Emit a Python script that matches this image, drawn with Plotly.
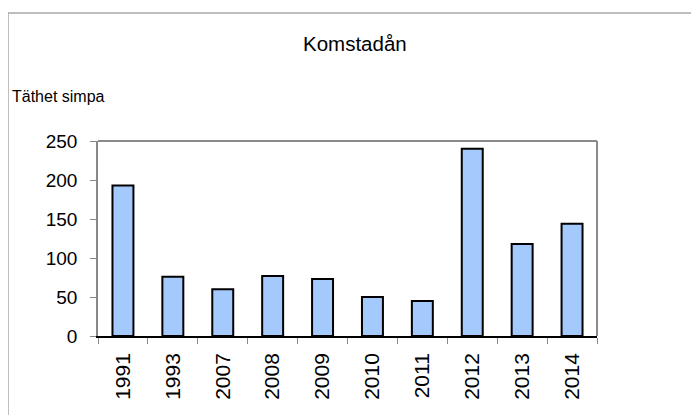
import plotly.graph_objects as go

years = ["1991", "1993", "2007", "2008", "2009", "2010", "2011", "2012", "2013", "2014"]
density = [193, 76, 60, 77, 73, 50, 45, 240, 118, 144]
y_ticks = [0, 50, 100, 150, 200, 250]
title_text = "Komstadån"
y_label = "Täthet simpa"

# page body has an 8px margin; work in reference (window) pixels and subtract it
OFF = 8
W, H = 699 - OFF, 415 - OFF
plot_left, plot_right, plot_top, plot_bottom = 98, 597, 141, 336
L = plot_left - OFF
T = plot_top - OFF
R = W - (plot_right - OFF)
B = H - (plot_bottom - OFF)
pw = W - L - R
ph = H - T - B

def px_x(p):
    return (p - plot_left) / pw

def px_y(p):
    return (plot_bottom - p) / ph

FONT = "Arial, 'Liberation Sans', sans-serif"

fig = go.Figure()
fig.add_trace(go.Bar(
    x=years, y=density,
    marker=dict(color="#a4c9fd", line=dict(color="#000000", width=2)),
    width=0.42,
))

fig.update_layout(
    width=W, height=H,
    margin=dict(l=L, r=R, t=T, b=B, pad=0),
    paper_bgcolor="white", plot_bgcolor="white",
    showlegend=False,
    font=dict(family=FONT, color="black"),
    xaxis=dict(
        type="category", showgrid=False, zeroline=False,
        showline=True, linecolor="#000000", linewidth=1.5,
        ticks="outside", tickson="boundaries", ticklen=6, tickcolor="#888888", tickwidth=1,
        tickangle=-90, tickfont=dict(size=21, family=FONT, color="black"),
        ticklabelstandoff=7,
    ),
    yaxis=dict(
        range=[0, 250], tickvals=y_ticks, showgrid=False, zeroline=False,
        showline=True, linecolor="#888888", linewidth=1.5,
        ticks="outside", ticklen=6, tickcolor="#888888", tickwidth=1,
        tickfont=dict(size=19, family=FONT, color="black"),
        ticklabelstandoff=9,
    ),
    shapes=[
        dict(type="line", xref="paper", yref="paper", x0=0, x1=1, y0=1, y1=1,
             line=dict(color="#8a8a8a", width=2)),
        dict(type="line", xref="paper", yref="paper", x0=1, x1=1, y0=0, y1=1,
             line=dict(color="#8a8a8a", width=2)),
        dict(type="line", xref="paper", yref="paper", x0=px_x(8), x1=px_x(720),
             y0=px_y(13), y1=px_y(13), line=dict(color="#a8a8a8", width=1.5)),
        dict(type="line", xref="paper", yref="paper", x0=px_x(8), x1=px_x(8),
             y0=px_y(13), y1=px_y(430), line=dict(color="#a8a8a8", width=1.5)),
    ],
    annotations=[
        dict(text=title_text, xref="paper", yref="paper", x=px_x(355), y=px_y(43),
             xanchor="center", yanchor="middle", showarrow=False,
             font=dict(size=20.5, family=FONT, color="black")),
        dict(text=y_label, xref="paper", yref="paper", x=px_x(10), y=px_y(97),
             xanchor="left", yanchor="middle", showarrow=False,
             font=dict(size=16, family=FONT, color="black")),
    ],
)

fig.write_html("out.html")
